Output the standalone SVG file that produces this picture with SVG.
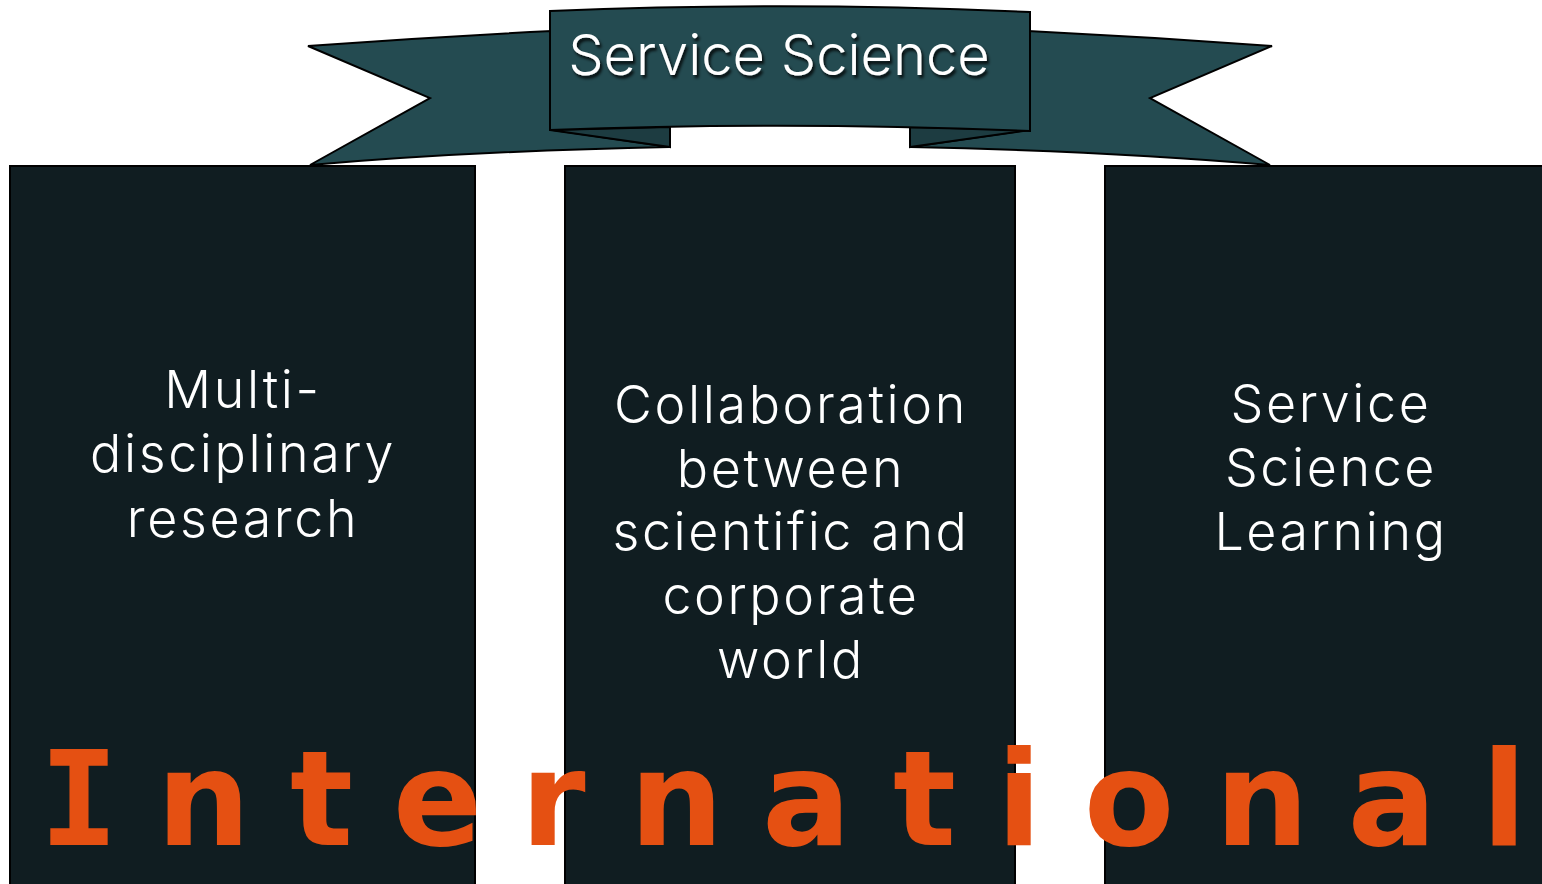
<svg xmlns="http://www.w3.org/2000/svg" width="1542" height="884" viewBox="0 0 1542 884">
  <defs>
    <filter id="textShadow" x="-10%" y="-30%" width="120%" height="160%">
      <feDropShadow dx="2" dy="3" stdDeviation="1.5" flood-color="#000000" flood-opacity="0.85"/>
    </filter>
    <!-- left half of the ribbon; the right half is its mirror image -->
    <g id="ribbonTail">
      <path class="ribbon" d="M308,46 Q430,37 552,31 L552,130 L670,147 Q470,151 310,165 L430,98 Z"/>
      <path class="fold" d="M550,130 L670,127 L670,147 Z"/>
    </g>
  </defs>
  <style>
    .ribbon { fill: #244b51; stroke: #000000; stroke-width: 2; stroke-linejoin: miter; }
    .fold { fill: #1d3c41; stroke: #000000; stroke-width: 2; stroke-linejoin: miter; }
    .panel { fill: #101d21; stroke: #000000; stroke-width: 2; }
    .label { font-family: Inter, Lato, "Open Sans", sans-serif; font-weight: 300; fill: #ffffff; text-anchor: middle; }
    .body { font-size: 52px; letter-spacing: 2.6px; }
    .title { font-size: 56px; }
    .stamp { font-family: "DejaVu Sans", Verdana, sans-serif; font-weight: bold; font-size: 132px; fill: #e55012; text-anchor: middle; }
  </style>

  <!-- banner -->
  <g id="banner">
    <use href="#ribbonTail"/>
    <use href="#ribbonTail" transform="translate(1580,0) scale(-1,1)"/>
    <path class="ribbon" d="M550,11 Q790,1 1030,12 L1030,131 Q790,121 550,130 Z"/>
    <text class="label title" x="779" y="75" filter="url(#textShadow)">Service Science</text>
  </g>

  <!-- pillars -->
  <g id="pillar-research">
    <rect class="panel" x="10" y="166" width="465" height="730"/>
    <text class="label body" x="243" y="408">Multi-</text>
    <text class="label body" x="243" y="472">disciplinary</text>
    <text class="label body" x="243" y="537">research</text>
  </g>

  <g id="pillar-collaboration">
    <rect class="panel" x="565" y="166" width="450" height="730"/>
    <text class="label body" x="791" y="423">Collaboration</text>
    <text class="label body" x="791" y="487">between</text>
    <text class="label body" x="791" y="550">scientific and</text>
    <text class="label body" x="791" y="614">corporate</text>
    <text class="label body" x="791" y="678">world</text>
  </g>

  <g id="pillar-learning">
    <rect class="panel" x="1105" y="166" width="460" height="730"/>
    <text class="label body" x="1331" y="422">Service</text>
    <text class="label body" x="1331" y="486">Science</text>
    <text class="label body" x="1331" y="550">Learning</text>
  </g>

  <!-- wide-set caption across the pillars -->
  <g id="caption">
    <text class="stamp" y="845"><tspan x="79" font-family="'DejaVu Sans Mono', monospace">I</tspan><tspan x="203.5 321.5 437.5 553 676.5 806.5 924.5 1019 1129 1262 1392 1504">nternational</tspan></text>
  </g>
</svg>
